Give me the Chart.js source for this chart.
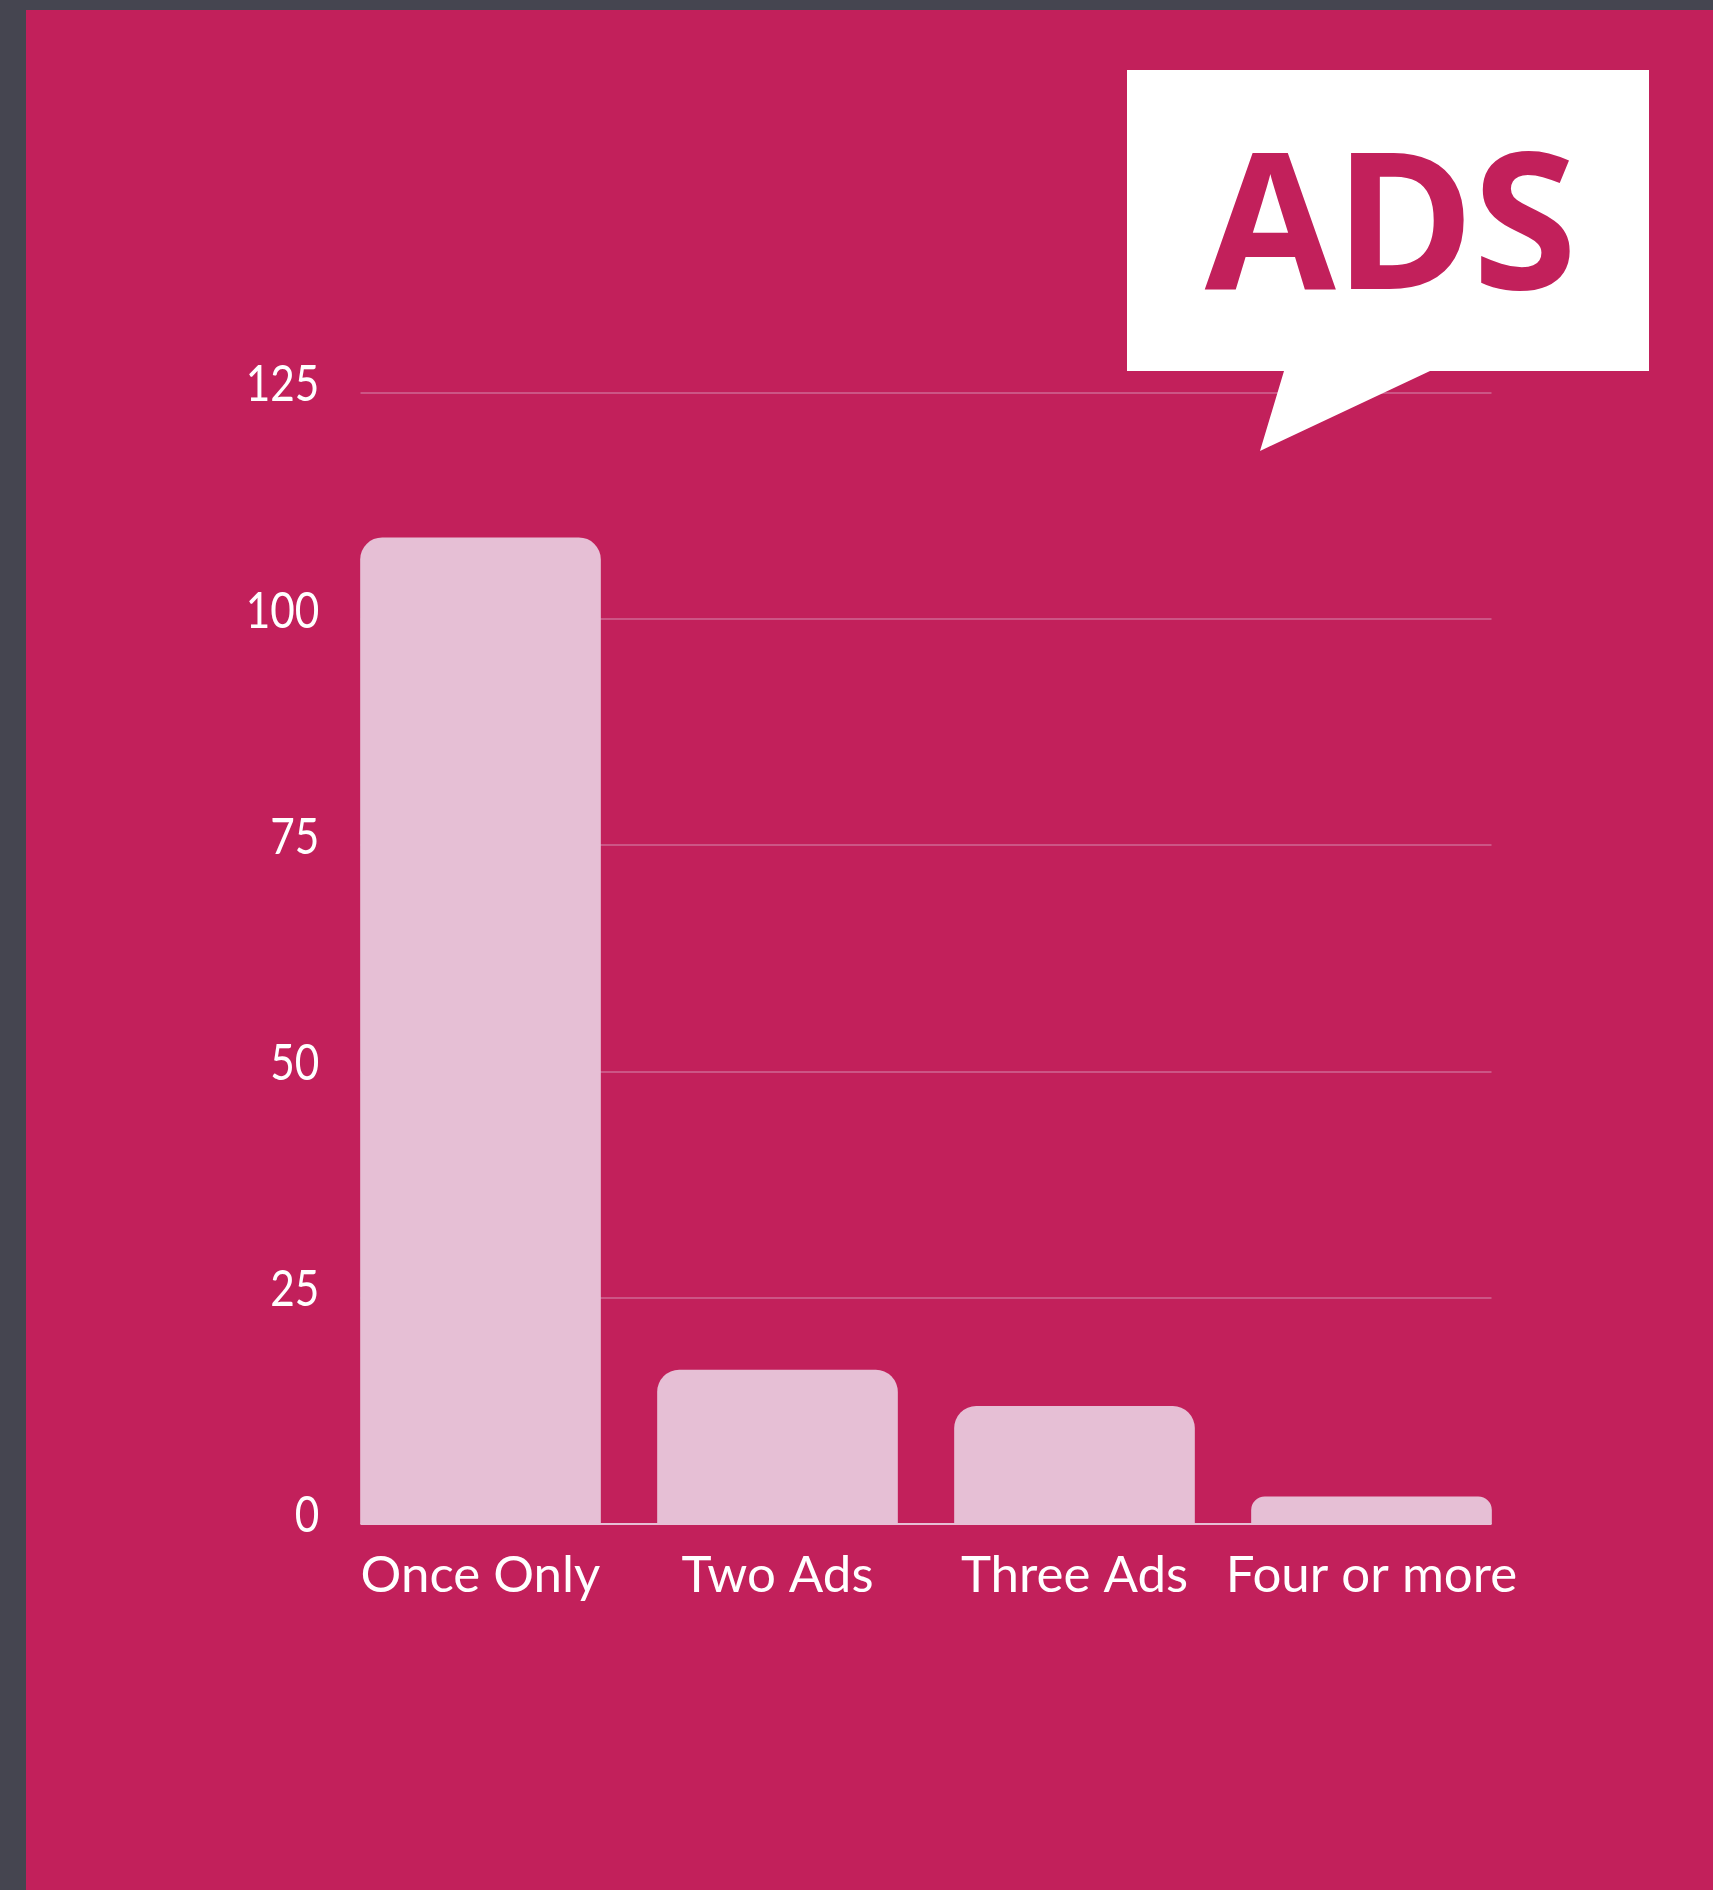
<!DOCTYPE html>
<html>
<head>
<meta charset="utf-8">
<title>Ads</title>
<script src="https://cdn.jsdelivr.net/npm/chart.js@4"></script>
<style>
  html, body { margin: 0; padding: 0; background: #454550; }
  #stage { position: relative; width: 1713px; height: 1890px; overflow: hidden; }
  #panel { position: absolute; left: 26px; top: 10px; right: 0; bottom: 0; background: #c2205b; }
  #chart { position: absolute; left: 0; top: 0; }
  #bubble { position: absolute; left: 0; top: 0; }
</style>
</head>
<body>
<div id="stage">
  <div id="panel"></div>
  <canvas id="chart" width="1713" height="1890"></canvas>
  <svg id="bubble" width="1713" height="1890">
    <polygon points="1127,70 1649,70 1649,371 1430,371 1260,451 1284,371 1127,371" fill="#fff"/>
    <text x="1390" y="289" text-anchor="middle" fill="#c2205b"
          font-family="Open Sans" font-weight="700" font-size="190" letter-spacing="-2">ADS</text>
  </svg>
</div>
<script>
const categories = ["Once Only", "Two Ads", "Three Ads", "Four or more"];
const adCounts = [109, 17, 13, 3];
const yTicks = [0, 25, 50, 75, 100, 125];
const yTickPadding = 6;

// gridlines and baseline only span first bar's left edge to last bar's right edge
const spanGrid = {
  id: "spanGrid",
  beforeDatasetsDraw(c) {
    const bars = c.getDatasetMeta(0).data;
    const left = bars[0].x - bars[0].width / 2;
    const right = bars[bars.length - 1].x + bars[0].width / 2;
    const y = c.scales.y;
    const ctx = c.ctx;
    ctx.save();
    yTicks.forEach(t => {
      const py = Math.round(y.getPixelForValue(t));
      ctx.strokeStyle = t === 0 ? "#e6bfd5" : "#cc5585";
      ctx.lineWidth = 2;
      ctx.beginPath();
      ctx.moveTo(left, py);
      ctx.lineTo(right, py);
      ctx.stroke();
    });
    ctx.restore();
  }
};

const chart = new Chart(document.getElementById("chart"), {
  type: "bar",
  data: {
    labels: categories,
    datasets: [{
      data: adCounts,
      backgroundColor: "#e6bfd5",
      barThickness: 240,
      borderRadius: { topLeft: 22, topRight: 22, bottomLeft: 0, bottomRight: 0 },
      borderSkipped: "bottom"
    }]
  },
  options: {
    responsive: false,
    animation: false,
    layout: { padding: { left: 0, top: 393, right: 193, bottom: 266 } },
    plugins: { legend: { display: false }, tooltip: { enabled: false } },
    scales: {
      x: {
        grid: { display: false },
        border: { display: false },
        afterFit: s => { s.height = 100; },
        ticks: {
          color: "#fff",
          font: { family: "Lato", size: 51 },
          padding: 13,
          maxRotation: 0,
          autoSkip: false
        }
      },
      y: {
        min: 0,
        max: 125,
        grid: { display: false },
        border: { display: false },
        afterFit: s => { s.width = 332; },
        afterBuildTicks: s => { s.ticks = yTicks.map(value => ({ value })); },
        ticks: {
          color: "#fff",
          font: { family: "Lato", size: 51 },
          padding: yTickPadding,
          labelOffset: -8
        }
      }
    }
  },
  plugins: [spanGrid]
});

// y labels use narrower digits: squeeze them about their right-aligned edge
const yScale = chart.scales.y;
const drawYLabels = yScale.drawLabels;
yScale.drawLabels = function (area) {
  const edge = yScale.right - yTickPadding;
  const ctx = yScale.ctx;
  ctx.save();
  ctx.translate(edge, 0);
  ctx.scale(0.83, 1);
  ctx.translate(-edge, 0);
  drawYLabels.call(yScale, area);
  ctx.restore();
};
chart.draw();
</script>
</body>
</html>
